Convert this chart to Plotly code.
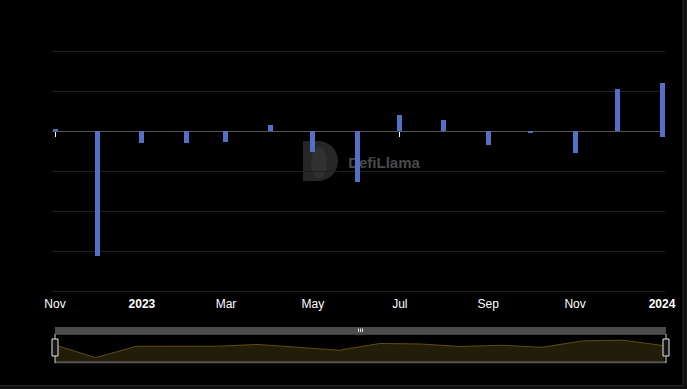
import plotly.graph_objects as go
import pandas as pd

# ---- data ----
months = ["2022-11-01", "2022-12-01", "2023-01-01", "2023-02-01", "2023-03-01",
          "2023-04-01", "2023-05-01", "2023-06-01", "2023-07-01", "2023-08-01",
          "2023-09-01", "2023-10-01", "2023-11-01", "2023-12-01", "2024-01-01",
          "2024-01-01"]
net_flows = [0.3, -31.25, -3.0, -3.0, -2.7, 1.5, -5.25, -12.8, 4.0, 2.75,
             -3.6, -0.5, -5.5, 10.5, 12.0, -1.4]
tick_dates = ["2022-11-01", "2023-01-01", "2023-03-01", "2023-05-01",
              "2023-07-01", "2023-09-01", "2023-11-01", "2024-01-01"]
tick_labels = ["Nov", "<b>2023</b>", "Mar", "May", "Jul", "Sep", "Nov", "<b>2024</b>"]
marked_ticks = ["2022-11-01", "2023-07-01"]

# ---- geometry helpers (pixels -> paper) ----
W, H = 687, 389
L, R, T, B = 52, 22, 49, 26
PW, PH = W - L - R, H - T - B


def px_x(p):
    return (p - L) / PW


def px_y(p):
    return (H - B - p) / PH


# x range: first month at px 55, last month at px 662
d0 = pd.Timestamp("2022-11-01")
d1 = pd.Timestamp("2024-01-01")
span_days = (d1 - d0).days
ppd = (662 - 55) / span_days
x_lo = d0 - pd.Timedelta(days=(55 - L) / ppd)
x_hi = d1 + pd.Timedelta(days=(W - R - 662) / ppd)
xrange = [x_lo.strftime("%Y-%m-%d %H:%M:%S"), x_hi.strftime("%Y-%m-%d %H:%M:%S")]
bar_w_ms = 5 / ppd * 86400000

BLUE = "#5470c6"
FONT = "Liberation Sans, Arial, sans-serif"

fig = go.Figure()

fig.add_trace(go.Bar(
    x=months, y=net_flows, width=[bar_w_ms] * len(months),
    marker=dict(color=BLUE, line=dict(width=0)),
    xaxis="x", yaxis="y", hoverinfo="x+y",
))

# dummy trace for overlay tick axis
fig.add_trace(go.Scatter(x=[months[0]], y=[0], xaxis="x3", yaxis="y",
                         mode="markers", marker=dict(opacity=0), hoverinfo="skip"))

# data shadow in the zoom slider
idx = list(range(len(net_flows)))
y2_lo, y2_hi = -44.3, 20
fig.add_trace(go.Scatter(x=idx, y=[y2_lo] * len(idx), xaxis="x2", yaxis="y2",
                         mode="lines", line=dict(width=0), hoverinfo="skip"))
fig.add_trace(go.Scatter(x=idx, y=net_flows, xaxis="x2", yaxis="y2",
                         mode="lines", line=dict(color="#5e4c10", width=1),
                         fill="tonexty", fillcolor="#221d08", hoverinfo="skip"))

shapes = []
# card background
shapes.append(dict(type="rect", xref="paper", yref="paper", layer="below",
                   x0=px_x(-10), x1=px_x(683), y0=px_y(-10), y1=px_y(385.5),
                   fillcolor="#000000", line=dict(color="#262626", width=1)))
# watermark logo
cx0, cy0, cy1, cxm, r = 303, 141, 181, 318, 20
k = 0.552 * r
path = (f"M {px_x(cx0)},{px_y(cy0)} L {px_x(cxm)},{px_y(cy0)} "
        f"C {px_x(cxm + k)},{px_y(cy0)} {px_x(cxm + r)},{px_y(161 - k)} {px_x(cxm + r)},{px_y(161)} "
        f"C {px_x(cxm + r)},{px_y(161 + k)} {px_x(cxm + k)},{px_y(cy1)} {px_x(cxm)},{px_y(cy1)} "
        f"L {px_x(cx0)},{px_y(cy1)} Z")
shapes.append(dict(type="path", xref="paper", yref="paper", layer="below", path=path,
                   fillcolor="#262626", line=dict(width=0)))
shapes.append(dict(type="circle", xref="paper", yref="paper", layer="below",
                   x0=px_x(311), x1=px_x(327), y0=px_y(147), y1=px_y(178),
                   fillcolor="#313131", line=dict(width=0)))
# watermark text
shapes.append(dict(type="rect", xref="paper", yref="paper", layer="below",
                   x0=px_x(340), x1=px_x(428), y0=px_y(151), y1=px_y(172),
                   fillcolor="rgba(0,0,0,0)", line=dict(width=0),
                   label=dict(text="<b>DefiLlama</b>", textposition="middle center",
                              font=dict(family=FONT, size=15, color="#4a4a4a"))))

# slider chrome
sx0, sx1 = 55, 666
shapes.append(dict(type="rect", xref="paper", yref="paper", layer="above",
                   x0=px_x(sx0), x1=px_x(sx1), y0=px_y(333.5), y1=px_y(327),
                   fillcolor="#4b4b4b", line=dict(width=0)))
shapes.append(dict(type="line", xref="paper", yref="paper", layer="above",
                   x0=px_x(sx0), x1=px_x(sx1), y0=px_y(334), y1=px_y(334),
                   line=dict(color="#7a7a7a", width=1)))
shapes.append(dict(type="line", xref="paper", yref="paper", layer="above",
                   x0=px_x(sx0), x1=px_x(sx1), y0=px_y(362.3), y1=px_y(362.3),
                   line=dict(color="#555555", width=2)))
for gx in (358.5, 360.5, 362.5):
    shapes.append(dict(type="line", xref="paper", yref="paper", layer="above",
                       x0=px_x(gx), x1=px_x(gx), y0=px_y(328.5), y1=px_y(332),
                       line=dict(color="#e0e0e0", width=1)))
for hx in (sx0, sx1):
    shapes.append(dict(type="line", xref="paper", yref="paper", layer="above",
                       x0=px_x(hx), x1=px_x(hx), y0=px_y(334), y1=px_y(363),
                       line=dict(color="#cfcfcf", width=1)))
    shapes.append(dict(type="rect", xref="paper", yref="paper", layer="above",
                       x0=px_x(hx - 3), x1=px_x(hx + 3), y0=px_y(339), y1=px_y(356),
                       fillcolor="#151515", line=dict(color="#e6e6e6", width=1)))

fig.update_layout(
    width=W, height=H,
    margin=dict(l=L, r=R, t=T, b=B),
    paper_bgcolor="#101010", plot_bgcolor="rgba(0,0,0,0)",
    showlegend=False, bargap=0,
    font=dict(family=FONT, color="#ffffff", size=12),
    shapes=shapes,
    xaxis=dict(type="date", range=xrange, domain=[0, 1], anchor="y",
               tickvals=tick_dates, ticktext=tick_labels, ticks="",
               ticklabelstandoff=2,
               showgrid=False, zeroline=False, showline=False,
               tickfont=dict(family=FONT, size=12, color="#ffffff")),
    yaxis=dict(domain=[px_y(293), 1], range=[-40.5, 20.5], dtick=10,
               anchor="x",
               showgrid=True, gridcolor="#1e1e1e", gridwidth=1,
               zeroline=True, zerolinecolor="#555555", zerolinewidth=1,
               showticklabels=False, ticks="", showline=False),
    xaxis2=dict(domain=[0, 1], anchor="y2",
                range=[(L - 55) / 40.6, (W - R - 55) / 40.6], visible=False),
    yaxis2=dict(domain=[0, px_y(337)], anchor="x2", range=[y2_lo, y2_hi], visible=False),
    xaxis3=dict(type="date", overlaying="x", anchor="free", position=px_y(131),
                side="bottom", range=xrange, tickvals=marked_ticks, ticks="outside",
                ticklen=5, tickwidth=1, tickcolor="#ffffff", showticklabels=False,
                showgrid=False, zeroline=False, showline=False),
)

fig.write_html(
    "out.html",
    config={"displayModeBar": False},
    post_script="document.body.style.margin='0';document.body.style.background='#000';",
)
